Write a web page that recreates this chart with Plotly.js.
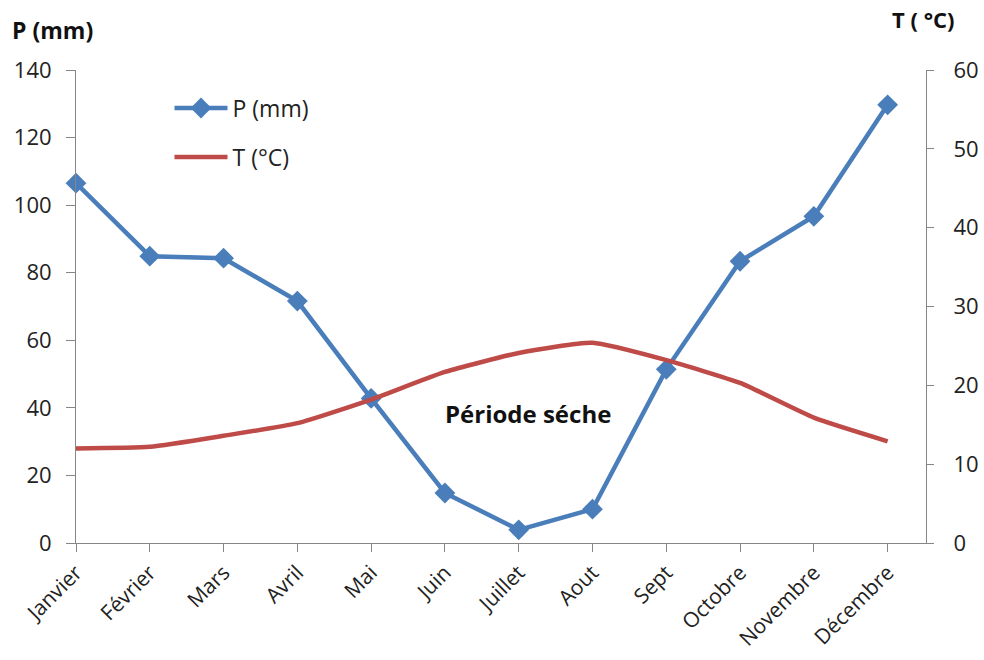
<!DOCTYPE html>
<html>
<head>
<meta charset="utf-8">
<script src="https://cdn.plot.ly/plotly-3.0.1.min.js"></script>
<style>html,body{margin:0;padding:0;background:#fff;}#chart{width:984px;height:660px;}</style>
</head>
<body>
<div id="chart"></div>
<script>
const months = ["Janvier","Février","Mars","Avril","Mai","Juin","Juillet","Aout","Sept","Octobre","Novembre","Décembre"];
const precip = [106.5, 84.9, 84.3, 71.6, 42.8, 14.8, 3.9, 10.0, 51.4, 83.4, 96.7, 129.7];
const temp = [12.0, 12.2, 13.6, 15.2, 18.2, 21.7, 24.1, 25.4, 23.2, 20.3, 15.9, 12.9];
const leftTicks = [0, 20, 40, 60, 80, 100, 120, 140];
const rightTicks = [0, 10, 20, 30, 40, 50, 60];

const font = "Open Sans, Noto Sans, sans-serif";
const axisCol = "#868686";
const txtCol = "#222";

const traces = [
  {
    x: months, y: precip, name: "P (mm)", type: "scatter", mode: "lines+markers",
    legendgroup: "a",
    line: {color: "#4A7EBB", width: 4.5},
    marker: {symbol: "diamond", size: 16, color: "#4A7EBB"},
    cliponaxis: false
  },
  {
    x: months, y: temp, name: "T (°C)", type: "scatter", mode: "lines",
    legendgroup: "b",
    yaxis: "y2",
    line: {color: "#BE4B48", width: 4.5, shape: "spline", smoothing: 0.5},
    cliponaxis: false
  }
];

const layout = {
  width: 984, height: 660,
  margin: {l: 76, r: 58, t: 70, b: 117},
  paper_bgcolor: "#fff", plot_bgcolor: "#fff",
  font: {family: font, size: 22, color: txtCol},
  showlegend: true,
  legend: {
    x: 0.11, y: 0.965, xanchor: "left", yanchor: "top",
    bgcolor: "rgba(0,0,0,0)", font: {size: 23, color: txtCol},
    traceorder: "grouped", tracegroupgap: 16, itemwidth: 53
  },
  xaxis: {
    type: "category", range: [0, 11.52],
    showline: true, linecolor: axisCol, linewidth: 1,
    ticks: "outside", ticklen: 8, tickcolor: axisCol,
    tickangle: -45, showgrid: false, zeroline: false,
    tickfont: {size: 21, color: txtCol}
  },
  yaxis: {
    range: [0, 140], tickvals: leftTicks,
    showline: true, linecolor: axisCol, linewidth: 1,
    ticks: "outside", ticklen: 9, tickcolor: axisCol,
    ticklabelstandoff: 10,
    showgrid: false, zeroline: false,
    tickfont: {size: 22, color: txtCol}
  },
  yaxis2: {
    range: [0, 60], tickvals: rightTicks, overlaying: "y", side: "right",
    showline: true, linecolor: axisCol, linewidth: 1,
    ticks: "outside", ticklen: 7, tickcolor: axisCol,
    ticklabelstandoff: 15,
    showgrid: false, zeroline: false,
    tickfont: {size: 22, color: txtCol}
  },
  annotations: [
    {text: "<b>P (mm)</b>", xref: "paper", yref: "paper", x: -0.0775, y: 1.085, xanchor: "left", yanchor: "middle",
     showarrow: false, font: {size: 23, color: "#111"}},
    {text: "<b>T ( °C)</b>", xref: "paper", yref: "paper", x: 1.036, y: 1.108, xanchor: "right", yanchor: "middle",
     showarrow: false, font: {size: 22, color: "#111"}},
    {text: "<b>Période séche</b>", xref: "paper", yref: "paper", x: 0.532, y: 0.274, xanchor: "center", yanchor: "middle",
     showarrow: false, font: {size: 24, color: "#111"}}
  ]
};

Plotly.newPlot("chart", traces, layout, {displayModeBar: false, staticPlot: true});
</script>
</body>
</html>
